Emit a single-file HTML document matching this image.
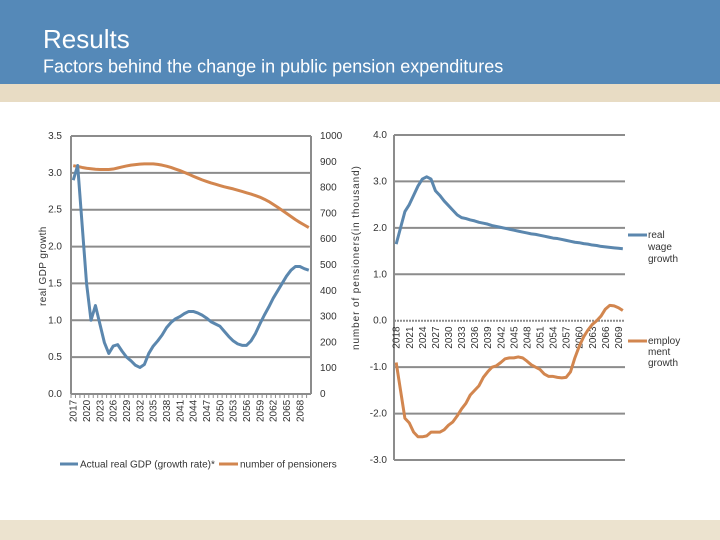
<!DOCTYPE html>
<html><head><meta charset="utf-8"><style>
body{margin:0;width:720px;height:540px;background:#fff;position:relative;overflow:hidden;font-family:"Liberation Sans",sans-serif}
#hdr{position:absolute;left:0;top:0;width:720px;height:84px;background:#5589b8}
#stripe{position:absolute;left:0;top:84px;width:720px;height:18px;background:#e8dcc4}
#foot{position:absolute;left:0;top:520px;width:720px;height:20px;background:#ece3cf}
h1{position:absolute;left:43px;top:24px;margin:0;font-weight:normal;font-size:26px;color:#fff}
h2{position:absolute;left:43px;top:56px;margin:0;font-weight:normal;font-size:18px;color:#fff;transform:scaleY(1.05)}
svg{position:absolute;left:0;top:0}
text{font-family:"Liberation Sans",sans-serif;font-size:10px;fill:#333}
</style></head><body>
<div id="hdr"></div>
<div id="stripe"></div>
<div id="foot"></div>
<h1>Results</h1>
<h2>Factors behind the change in public pension expenditures</h2>
<svg id="c" width="720" height="540"></svg>
<script>
const gdpYears=[];for(let y=2017;y<=2070;y++)gdpYears.push(y);
const gdpValues=[2.9,3.1,2.3,1.5,1.0,1.2,0.95,0.7,0.55,0.65,0.67,0.58,0.5,0.45,0.39,0.36,0.4,0.55,0.65,0.72,0.8,0.9,0.97,1.02,1.05,1.09,1.12,1.12,1.1,1.07,1.03,0.98,0.95,0.92,0.85,0.78,0.72,0.68,0.66,0.66,0.72,0.82,0.95,1.07,1.18,1.3,1.4,1.5,1.6,1.68,1.73,1.73,1.7,1.68];
const pensioners=[885,882,878,875,873,871,870,870,870,872,876,880,884,887,889,891,892,892,892,890,887,883,878,872,866,859,852,844,837,830,824,818,813,808,803,799,795,790,785,780,775,769,763,755,746,735,724,712,700,688,676,665,655,645];
const gdpTicks=[0,0.5,1,1.5,2,2.5,3,3.5];
const penTicks=[0,100,200,300,400,500,600,700,800,900,1000];
const rYears=[];for(let y=2018;y<=2070;y++)rYears.push(y);
const wageValues=[1.65,2.0,2.35,2.5,2.7,2.9,3.05,3.1,3.05,2.8,2.7,2.58,2.48,2.38,2.28,2.22,2.2,2.17,2.15,2.12,2.1,2.08,2.05,2.03,2.01,1.99,1.97,1.95,1.93,1.91,1.89,1.87,1.86,1.84,1.82,1.8,1.78,1.77,1.75,1.73,1.71,1.69,1.68,1.66,1.65,1.63,1.62,1.6,1.59,1.58,1.57,1.56,1.55];
const emplValues=[-0.9,-1.5,-2.1,-2.2,-2.4,-2.5,-2.5,-2.48,-2.4,-2.4,-2.4,-2.35,-2.25,-2.18,-2.05,-1.9,-1.78,-1.6,-1.5,-1.4,-1.22,-1.1,-1.0,-0.97,-0.9,-0.82,-0.8,-0.8,-0.78,-0.8,-0.87,-0.95,-1.0,-1.05,-1.15,-1.2,-1.2,-1.22,-1.23,-1.22,-1.1,-0.8,-0.55,-0.35,-0.2,-0.08,0.0,0.1,0.25,0.33,0.32,0.28,0.22];
const rTicks=[-3,-2,-1,0,1,2,3,4];
const svg=document.getElementById('c');const NS='http://www.w3.org/2000/svg';
function mk(t,a,p){const e=document.createElementNS(NS,t);for(const k in a)e.setAttribute(k,a[k]);(p||svg).appendChild(e);return e;}
const BLUE='#5b87ae',ORANGE='#d2864f',GRID='#8c8c8c';
const L={x0:71,x1:311,yT:136,yB:394};
const lx=i=>L.x0+(i+0.5)*(L.x1-L.x0)/gdpYears.length;
const ly=v=>L.yB-(v/3.5)*(L.yB-L.yT);
const ry=v=>L.yB-(v/1000)*(L.yB-L.yT);
gdpTicks.forEach(t=>{const g=mk('line',{x1:L.x0,x2:L.x1,y1:ly(t),y2:ly(t),stroke:GRID,'stroke-width':2});

const tx=mk('text',{x:62,y:ly(t)+3,'text-anchor':'end','font-size':'9.5'});tx.textContent=t.toFixed(1);
});
penTicks.forEach(t=>{const tx=mk('text',{x:320,y:ry(t)+3});tx.textContent=t;
});
mk('line',{x1:L.x0,x2:L.x0,y1:L.yT,y2:L.yB,stroke:GRID,'stroke-width':2});
mk('line',{x1:L.x1,x2:L.x1,y1:L.yT,y2:L.yB,stroke:GRID,'stroke-width':2});
gdpYears.forEach((y,i)=>{mk('line',{x1:lx(i)-2.2,x2:lx(i)-2.2,y1:L.yB,y2:L.yB+4,stroke:GRID,'stroke-width':1});
if(i%3===0){const tx=mk('text',{transform:`translate(${lx(i)+3.5},${L.yB+28}) rotate(-90)`});tx.textContent=y;
}});
let p=mk('polyline',{points:pensioners.map((v,i)=>lx(i)+','+ry(v)).join(' '),fill:'none',stroke:ORANGE,'stroke-width':3,'stroke-linejoin':'round'});

p=mk('polyline',{points:gdpValues.map((v,i)=>lx(i)+','+ly(v)).join(' '),fill:'none',stroke:BLUE,'stroke-width':3,'stroke-linejoin':'round'});

let t=mk('text',{transform:'translate(46,306) rotate(-90)','letter-spacing':'0.4'});t.textContent='real GDP growth';

t=mk('text',{transform:'translate(359,350) rotate(-90)','letter-spacing':'0.9'});t.textContent='number of pensioners(in thousand)';

mk('line',{x1:60,x2:78,y1:464,y2:464,stroke:BLUE,'stroke-width':3});
t=mk('text',{x:80,y:467.5});t.textContent='Actual real GDP (growth rate)*';

mk('line',{x1:219,x2:238,y1:464,y2:464,stroke:ORANGE,'stroke-width':3});
t=mk('text',{x:240,y:467.5});t.textContent='number of pensioners';

const R={x0:394,x1:625,yT:135,yB:460};
const rx=i=>R.x0+(i+0.5)*(R.x1-R.x0)/rYears.length;
const rvy=v=>R.yT+(4-v)/7*(R.yB-R.yT);
rTicks.forEach(tk=>{const g=mk('line',{x1:R.x0,x2:R.x1,y1:rvy(tk),y2:rvy(tk),stroke:GRID,'stroke-width':2,'stroke-dasharray':tk===0?'2,1':'none'});

const tx=mk('text',{x:387,y:rvy(tk)+3,'text-anchor':'end'});tx.textContent=tk.toFixed(1);
});
mk('line',{x1:R.x0,x2:R.x0,y1:R.yT,y2:R.yB,stroke:GRID,'stroke-width':2});
rYears.forEach((y,i)=>{if(i%3===0){const tx=mk('text',{transform:`translate(${rx(i)+3.5},${rvy(0)+28}) rotate(-90)`});tx.textContent=y;
}});
p=mk('polyline',{points:wageValues.map((v,i)=>rx(i)+','+rvy(v)).join(' '),fill:'none',stroke:BLUE,'stroke-width':3,'stroke-linejoin':'round'});

p=mk('polyline',{points:emplValues.map((v,i)=>rx(i)+','+rvy(v)).join(' '),fill:'none',stroke:ORANGE,'stroke-width':3,'stroke-linejoin':'round'});

mk('line',{x1:628,x2:647,y1:235,y2:235,stroke:BLUE,'stroke-width':3});
[['real',238],['wage',250],['growth',262]].forEach(([s,y])=>{const tx=mk('text',{x:648,y:y});tx.textContent=s;
});
mk('line',{x1:628,x2:647,y1:341,y2:341,stroke:ORANGE,'stroke-width':3});
[['employ',344],['ment',355],['growth',366]].forEach(([s,y])=>{const tx=mk('text',{x:648,y:y});tx.textContent=s;
});
</script>
</body></html>
